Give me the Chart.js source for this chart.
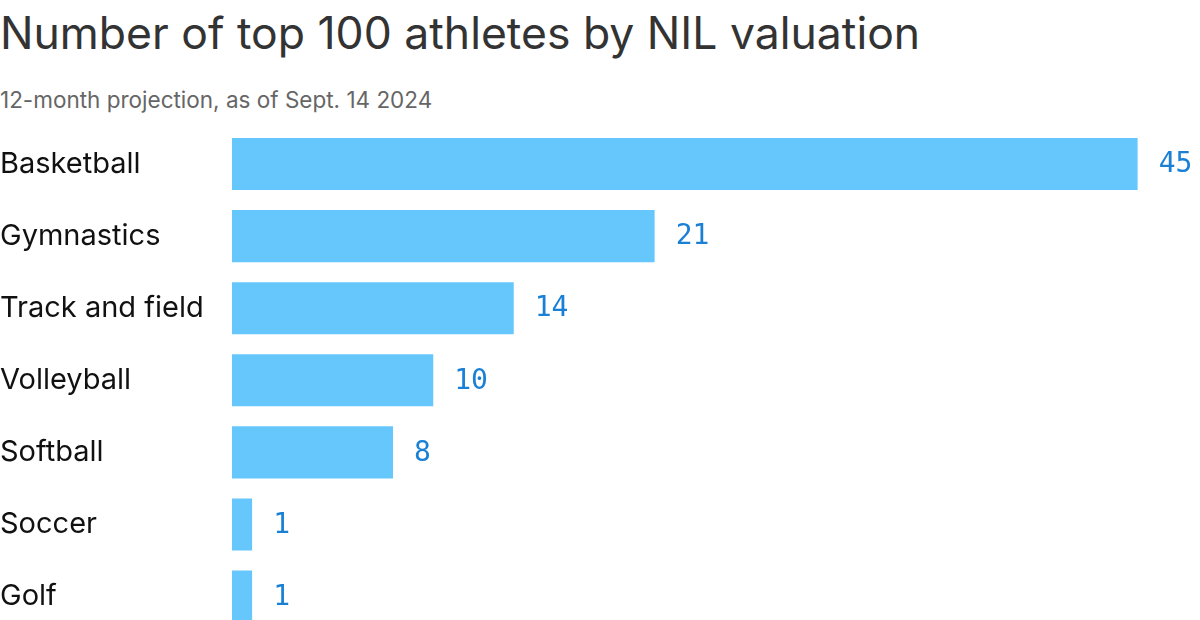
<!DOCTYPE html>
<html>
<head>
<meta charset="utf-8">
<script src="https://cdn.jsdelivr.net/npm/chart.js@4"></script>
<style>
  html, body { margin: 0; padding: 0; background: #fff; overflow: hidden; }
  body { width: 1200px; height: 620px; position: relative; font-family: Inter, "Noto Sans", sans-serif; }
  #title { position: absolute; left: 0; top: 6px; font-size: 44.5px; color: #333; white-space: nowrap; }
  #subtitle { position: absolute; left: 0; top: 86px; font-size: 22.5px; color: #666; white-space: nowrap; }
  #chart { position: absolute; left: 0; top: 0; }
</style>
</head>
<body>
<div id="title">Number of top 100 athletes by NIL valuation</div>
<div id="subtitle">12-month projection, as of Sept. 14 2024</div>
<canvas id="chart" width="1200" height="650"></canvas>
<script>
const categories = ['Basketball', 'Gymnastics', 'Track and field', 'Volleyball', 'Softball', 'Soccer', 'Golf'];
const athletes = [45, 21, 14, 10, 8, 1, 1];

// value labels drawn just past the end of each bar
const valueLabels = {
    id: 'valueLabels',
    afterDatasetsDraw(chart) {
        const ctx = chart.ctx;
        const meta = chart.getDatasetMeta(0);
        ctx.save();
        ctx.font = '28px "DejaVu Sans Mono", monospace';
        ctx.fillStyle = '#1a80d6';
        ctx.textAlign = 'left';
        ctx.textBaseline = 'middle';
        meta.data.forEach((bar, i) => {
            ctx.fillText(String(athletes[i]), bar.x + 21, bar.y + 1);
        });
        ctx.restore();
    }
};

const ctx = document.getElementById('chart').getContext('2d');
const chart = new Chart(ctx, {
    type: 'bar',
    data: {
        labels: categories,
        datasets: [{
            data: athletes,
            backgroundColor: '#66c7fc',
            borderWidth: 0,
            barPercentage: 52 / 72,
            categoryPercentage: 1
        }]
    },
    options: {
        indexAxis: 'y',
        responsive: false,
        animation: false,
        devicePixelRatio: 1,
        layout: { padding: { top: 128, bottom: 8, left: 0, right: 2 } },
        plugins: {
            legend: { display: false },
            tooltip: { enabled: false }
        },
        scales: {
            x: {
                display: false,
                min: 0,
                max: 48
            },
            y: {
                grid: { display: false },
                border: { display: false },
                afterFit(scale) { scale.width = 232; },
                ticks: {
                    crossAlign: 'far',
                    padding: 0,
                    color: '#111',
                    font: { family: 'Inter, "Noto Sans", sans-serif', size: 29 }
                }
            }
        }
    },
    plugins: [valueLabels]
});
</script>
</body>
</html>
